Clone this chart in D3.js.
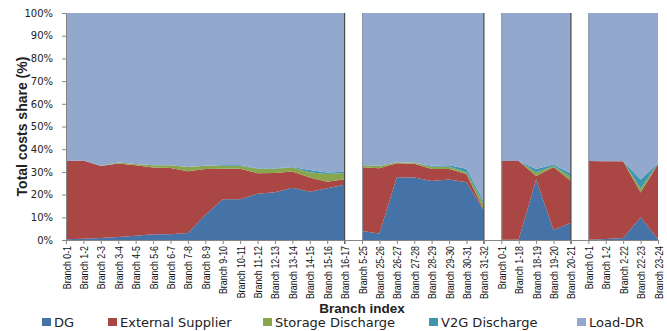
<!DOCTYPE html>
<html>
<head>
<meta charset="utf-8">
<script src="https://cdn.jsdelivr.net/npm/d3@7"></script>
<style>
  html, body { margin: 0; padding: 0; background: #fff; }
  svg { display: block; }
</style>
</head>
<body>
<svg id="chart" width="667" height="331"></svg>
<script>
// Branch labels along the x axis (four feeder sections)
const categories = [
  "Branch 0-1","Branch 1-2","Branch 2-3","Branch 3-4","Branch 4-5","Branch 5-6","Branch 6-7","Branch 7-8",
  "Branch 8-9","Branch 9-10","Branch 10-11","Branch 11-12","Branch 12-13","Branch 13-14","Branch 14-15",
  "Branch 15-16","Branch 16-17",
  "Branch 5-25","Branch 25-26","Branch 26-27","Branch 27-28","Branch 28-29","Branch 29-30","Branch 30-31","Branch 31-32",
  "Branch 0-1","Branch 1-18","Branch 18-19","Branch 19-20","Branch 20-21",
  "Branch 0-1","Branch 1-2","Branch 2-22","Branch 22-23","Branch 23-24"
];
// number of branches in each section
const sectionSizes = [17, 8, 5, 5];

// cost shares (%) per branch
const dg = [0.3,0.6,0.9,1.3,1.9,2.5,2.5,3.1,11.0,17.9,17.9,20.4,21.0,23.0,21.3,22.8,24.3,
            4.0,2.9,27.6,27.5,26.0,26.7,25.4,13.0,
            0.1,0.2,26.7,4.4,7.6,
            0.1,0.4,0.9,10.0,0.3];
const externalSupplier = [34.5,34.4,31.7,32.4,31.0,29.4,29.2,27.2,20.3,13.5,13.5,9.0,8.5,7.2,6.2,2.9,2.5,
            28.0,28.7,6.2,6.1,5.3,4.6,3.7,0.3,
            34.7,34.6,1.5,27.8,18.4,
            34.7,34.3,33.8,10.9,33.2];
const storageDischarge = [0,0,0,0.4,0.6,1.0,1.2,1.9,1.4,1.3,1.3,2.0,1.9,1.7,2.4,3.4,2.7,
            0.9,1.0,0.4,0.4,1.0,1.0,0.7,2.5,
            0,0,1.5,0.4,1.7,
            0,0,0,1.8,0.1];
const v2gDischarge = [0,0,0,0,0,0,0,0,0,0.3,0.3,0.2,0.2,0.3,0.9,0.6,0.6,
            0.1,0.1,0,0,0.4,0.6,1.6,1.0,
            0,0,1.6,0.7,1.6,
            0,0,0,4.0,0.2];
const loadDR = [65.2,65.0,67.4,65.9,66.5,67.1,67.1,67.8,67.3,67.0,67.0,68.4,68.4,67.8,69.2,70.3,69.9,
            67.0,67.3,65.8,66.0,67.3,67.1,68.6,83.2,
            65.2,65.2,68.7,66.7,70.7,
            65.2,65.3,65.3,73.3,66.2];

const seriesNames = ["DG","External Supplier","Storage Discharge","V2G Discharge","Load-DR"];
const seriesValues = [dg, externalSupplier, storageDischarge, v2gDischarge, loadDR];
const seriesColors = ["#4572A7","#AA4643","#89A54E","#3D96AE","#92A8CD"];
const yTicks = [0,10,20,30,40,50,60,70,80,90,100];

const svg = d3.select("#chart");
const margin = {left: 66, right: 9, top: 13, bottom: 91};
const W = 667, H = 331;

const idx = categories.map((_, i) => i);
const x = d3.scalePoint().domain(idx).range([margin.left, W - margin.right]);
const y = d3.scaleLinear().domain([0, 100]).range([H - margin.bottom, margin.top]);

// rows for the stack layout
const rows = idx.map(i => {
  const r = {i};
  seriesNames.forEach((n, k) => r[n] = seriesValues[k][i]);
  return r;
});
const stacked = d3.stack().keys(seriesNames)(rows);

// split the rows into sections
const sections = [];
let start = 0;
sectionSizes.forEach(n => { sections.push([start, start + n - 1]); start += n; });

const area = d3.area()
  .x(d => x(d.data.i))
  .y0(d => y(d[0]))
  .y1(d => y(d[1]));

const plot = svg.append("g");
sections.forEach(([a, b]) => {
  const g = plot.append("g");
  stacked.forEach((s, k) => {
    g.append("path")
      .datum(s.slice(a, b + 1))
      .attr("fill", seriesColors[k])
      .attr("d", area);
  });
});

// section borders
sections.forEach(([a, b], k) => {
  if (k > 0) {
    plot.append("line")
      .attr("x1", x(a) + 0.5).attr("x2", x(a) + 0.5)
      .attr("y1", y(100)).attr("y2", y(0))
      .attr("stroke", "#8a93a3").attr("stroke-width", 1);
  }
  if (k < sections.length - 1) {
    plot.append("line")
      .attr("x1", x(b)).attr("x2", x(b))
      .attr("y1", y(100)).attr("y2", y(0) + 4)
      .attr("stroke", "#4a4a4a").attr("stroke-width", 1.2);
  }
});

// y axis
const yAxis = svg.append("g")
  .attr("transform", `translate(${margin.left},0)`)
  .call(d3.axisLeft(y).tickValues(yTicks).tickFormat(d => d + "%").tickSize(4).tickPadding(9).tickSizeOuter(0));
yAxis.selectAll("path, line").attr("stroke", "#868686");
yAxis.selectAll("text")
  .attr("font-family", "DejaVu Sans, Verdana, sans-serif")
  .attr("font-size", 10).attr("fill", "#222");

// x axis
const xAxis = svg.append("g")
  .attr("transform", `translate(0,${y(0)})`)
  .call(d3.axisBottom(x).tickFormat(i => categories[i]).tickSize(4).tickSizeOuter(0));
xAxis.select(".domain").attr("stroke", "#868686");
xAxis.selectAll("line").attr("stroke", "#868686");
const xLabels = xAxis.selectAll("text")
  .attr("y", 0).attr("dy", "0.35em")
  .style("text-anchor", "end")
  .attr("font-family", "Liberation Sans, Arial, sans-serif")
  .attr("font-size", 11.5).attr("fill", "#111");
// condensed branch labels: the longest one spans 53px
let longest = 0;
xLabels.each(function() { longest = Math.max(longest, this.getComputedTextLength()); });
const squeeze = Math.min(1, 53 / longest);
xLabels
  .attr("transform", `rotate(-90) scale(${squeeze},1)`)
  .attr("x", -6 / squeeze);

// axis titles
svg.append("text")
  .attr("transform", `translate(27,${(y(0) + y(100)) / 2}) rotate(-90)`)
  .attr("text-anchor", "middle")
  .attr("font-family", "Liberation Sans, Arial, sans-serif")
  .attr("font-weight", "bold").attr("font-size", 14).attr("fill", "#222")
  .text("Total costs share (%)");

svg.append("text")
  .attr("x", (x.range()[0] + x.range()[1]) / 2).attr("y", 313)
  .attr("text-anchor", "middle")
  .attr("font-family", "Liberation Sans, Arial, sans-serif")
  .attr("font-weight", "bold").attr("font-size", 13.5).attr("fill", "#222")
  .text("Branch index");

// legend
const legendX = [42, 108, 263, 429, 577];
const legend = svg.append("g");
seriesNames.forEach((n, k) => {
  const g = legend.append("g").attr("transform", `translate(${legendX[k]},318)`);
  g.append("rect").attr("width", 9).attr("height", 8).attr("fill", seriesColors[k]);
  g.append("text").attr("x", 12).attr("y", 9)
    .attr("font-family", "DejaVu Sans, Verdana, sans-serif")
    .attr("font-size", 13).attr("fill", "#222").text(n);
});
</script>
</body>
</html>
